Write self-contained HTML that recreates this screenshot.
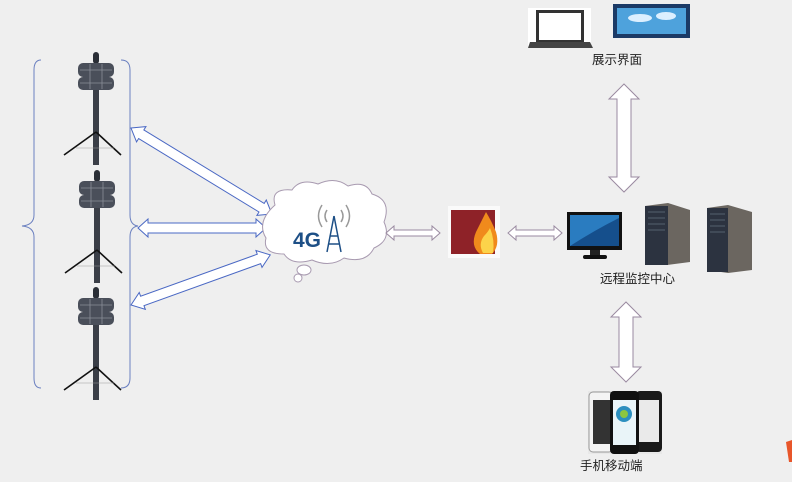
<!DOCTYPE html>
<html><head><meta charset="utf-8"><style>
html,body{margin:0;padding:0;background:#efefef}
svg{display:block}
text{font-family:"Liberation Sans","Noto Sans CJK SC",sans-serif}
</style></head><body>
<svg width="792" height="482" viewBox="0 0 792 482" xmlns="http://www.w3.org/2000/svg">
<defs>
<g id="tower">
 <rect x="-3" y="0" width="6" height="12" rx="3" fill="#2a2e36"/>
 <rect x="-18" y="11" width="36" height="14" rx="5" fill="#4a4f5a"/>
 <rect x="-18" y="25" width="36" height="13" rx="5" fill="#4a4f5a"/>
 <g stroke="#8a8f99" stroke-width="0.8"><line x1="-16" y1="18" x2="16" y2="18"/><line x1="-16" y1="31" x2="16" y2="31"/><line x1="-6" y1="12" x2="-6" y2="37"/><line x1="6" y1="12" x2="6" y2="37"/></g>
 <rect x="-3" y="38" width="6" height="75" fill="#3a3e47"/>
 <line x1="0" y1="80" x2="-32" y2="103" stroke="#111" stroke-width="1.6"/>
 <line x1="0" y1="80" x2="25" y2="103" stroke="#111" stroke-width="1.6"/>
 <line x1="-20" y1="96" x2="18" y2="96" stroke="#999" stroke-width="0.6"/>
</g>
</defs>
<rect width="792" height="482" fill="#efefef"/>
<!-- braces -->
<path d="M41 60 Q34 60 34 70 L34 215 Q34 225 22 226 Q34 227 34 237 L34 378 Q34 388 41 388" fill="none" stroke="#6b80c0" stroke-width="1"/>
<path d="M121 60 Q130 60 130 70 L130 215 Q130 225 138 226 Q130 227 130 237 L130 378 Q130 388 121 388" fill="none" stroke="#6b80c0" stroke-width="1"/>
<use href="#tower" transform="translate(96,52)"/>
<use href="#tower" transform="translate(97,170)"/>
<use href="#tower" transform="translate(96,287)"/>
<!-- blue block arrows -->
<g fill="#fff" stroke="#4a68c4" stroke-width="1">
 <polygon transform="translate(131,128) rotate(31.4)" points="0,0 12,-9 12,-5 153,-5 153,-9 165,0 153,9 153,5 12,5 12,9"/>
 <polygon transform="translate(138,228)" points="0,0 10,-9 10,-5 118,-5 118,-9 128,0 118,9 118,5 10,5 10,9"/>
 <polygon transform="translate(131,305) rotate(-19.8)" points="0,0 12,-9 12,-5 136,-5 136,-9 148,0 136,9 136,5 12,5 12,9"/>
</g>
<!-- cloud -->
<g fill="#fff" stroke="#a89ab0" stroke-width="1">
 <path d="M275 205 Q270 188 292 190 Q300 178 318 184 Q335 176 348 186 Q366 180 372 194 Q392 200 384 222 Q392 240 374 248 Q366 264 344 258 Q330 268 312 260 Q292 266 284 254 Q262 254 266 238 Q256 222 275 205 Z"/>
 <ellipse cx="304" cy="270" rx="7" ry="5"/>
 <ellipse cx="298" cy="278" rx="4" ry="4"/>
</g>
<text x="293" y="247" font-size="21" font-weight="bold" fill="#1d4f86">4G</text>
<g stroke="#1d4f86" stroke-width="1.5" fill="none">
 <line x1="334" y1="216" x2="327" y2="252"/><line x1="334" y1="216" x2="341" y2="252"/>
 <line x1="330" y1="236" x2="338" y2="236"/><line x1="329" y1="244" x2="339" y2="244"/>
</g>
<g stroke="#999" stroke-width="1.5" fill="none">
 <path d="M327 210 Q323 216 327 222"/><path d="M341 210 Q345 216 341 222"/>
 <path d="M322 205 Q315 216 322 227"/><path d="M346 205 Q353 216 346 227"/>
</g>
<!-- gray horizontal arrows -->
<g fill="#fff" stroke="#9a8aa0" stroke-width="1">
 <polygon transform="translate(386,233)" points="0,0 8,-7 8,-3 46,-3 46,-7 54,0 46,7 46,3 8,3 8,7"/>
 <polygon transform="translate(508,233)" points="0,0 8,-7 8,-3 46,-3 46,-7 54,0 46,7 46,3 8,3 8,7"/>
 <polygon transform="translate(624,84) rotate(90)" points="0,0 15,-15 15,-7 93,-7 93,-15 108,0 93,15 93,7 15,7 15,15"/>
 <polygon transform="translate(626,302) rotate(90)" points="0,0 15,-15 15,-7 65,-7 65,-15 80,0 65,15 65,7 15,7 15,15"/>
</g>
<!-- firewall -->
<rect x="448" y="206" width="52" height="52" fill="#fafafa"/>
<rect x="451" y="210" width="44" height="44" fill="#8e2228"/>
<path d="M480 254 Q470 246 476 232 Q480 224 486 212 Q492 222 496 232 Q500 246 492 254 Z" fill="#f08a1c"/>
<path d="M483 253 Q478 244 484 236 Q488 232 490 228 Q495 240 493 253 Z" fill="#fcd34a"/>
<!-- monitor -->
<rect x="567" y="212" width="55" height="38" fill="#111"/>
<rect x="570" y="215" width="49" height="31" fill="#2a7cc0"/>
<path d="M570 246 Q595 230 619 218 L619 246 Z" fill="#154f8c"/>
<rect x="590" y="250" width="10" height="5" fill="#222"/>
<rect x="583" y="255" width="24" height="4" rx="2" fill="#111"/>
<!-- servers -->
<polygon points="645,206 668,203 690,210 690,262 667,265 645,262" fill="#6b6660"/>
<rect x="645" y="206" width="23" height="59" fill="#2c3340"/>
<g stroke="#55606e" stroke-width="1"><line x1="648" y1="212" x2="665" y2="212"/><line x1="648" y1="218" x2="665" y2="218"/><line x1="648" y1="224" x2="665" y2="224"/><line x1="648" y1="230" x2="665" y2="230"/></g>
<polygon points="707,208 728,205 752,212 752,270 728,273 707,270" fill="#6b6660"/>
<rect x="707" y="208" width="21" height="64" fill="#2c3340"/>
<g stroke="#55606e" stroke-width="1"><line x1="710" y1="214" x2="725" y2="214"/><line x1="710" y1="220" x2="725" y2="220"/><line x1="710" y1="226" x2="725" y2="226"/><line x1="710" y1="232" x2="725" y2="232"/></g>
<text x="600" y="283" font-size="12.5" fill="#222">远程监控中心</text>
<!-- laptop & videowall -->
<rect x="528" y="8" width="63" height="38" fill="#fff"/>
<rect x="536" y="10" width="48" height="32" fill="#333"/>
<rect x="539" y="13" width="42" height="27" fill="#fff"/>
<polygon points="530,42 590,42 593,48 528,48" fill="#444"/>
<rect x="613" y="4" width="77" height="34" fill="#1b3a66"/>
<rect x="617" y="8" width="69" height="26" fill="#4ea2dc"/>
<ellipse cx="640" cy="18" rx="12" ry="4" fill="#dcefff"/><ellipse cx="666" cy="16" rx="10" ry="4" fill="#dcefff"/>
<text x="592" y="64" font-size="12.5" fill="#222">展示界面</text>
<!-- phones -->
<rect x="588" y="391" width="74" height="63" fill="#e8e8e8"/>
<rect x="589" y="392" width="24" height="60" rx="4" fill="#f4f4f4" stroke="#999"/>
<rect x="593" y="400" width="17" height="44" fill="#333"/>
<rect x="636" y="391" width="26" height="61" rx="4" fill="#1a1a1a"/>
<rect x="639" y="400" width="20" height="42" fill="#eaeaea"/>
<rect x="610" y="391" width="29" height="63" rx="4" fill="#111"/>
<rect x="613" y="400" width="23" height="45" fill="#e9f4f8"/>
<circle cx="624" cy="414" r="8" fill="#2c8fbf"/><circle cx="624" cy="414" r="4" fill="#8cc63f"/>
<text x="580" y="470" font-size="12.5" fill="#222">手机移动端</text>
<polygon points="786,442 792,440 792,462 789,462" fill="#e8562a"/>
</svg>
</body></html>
